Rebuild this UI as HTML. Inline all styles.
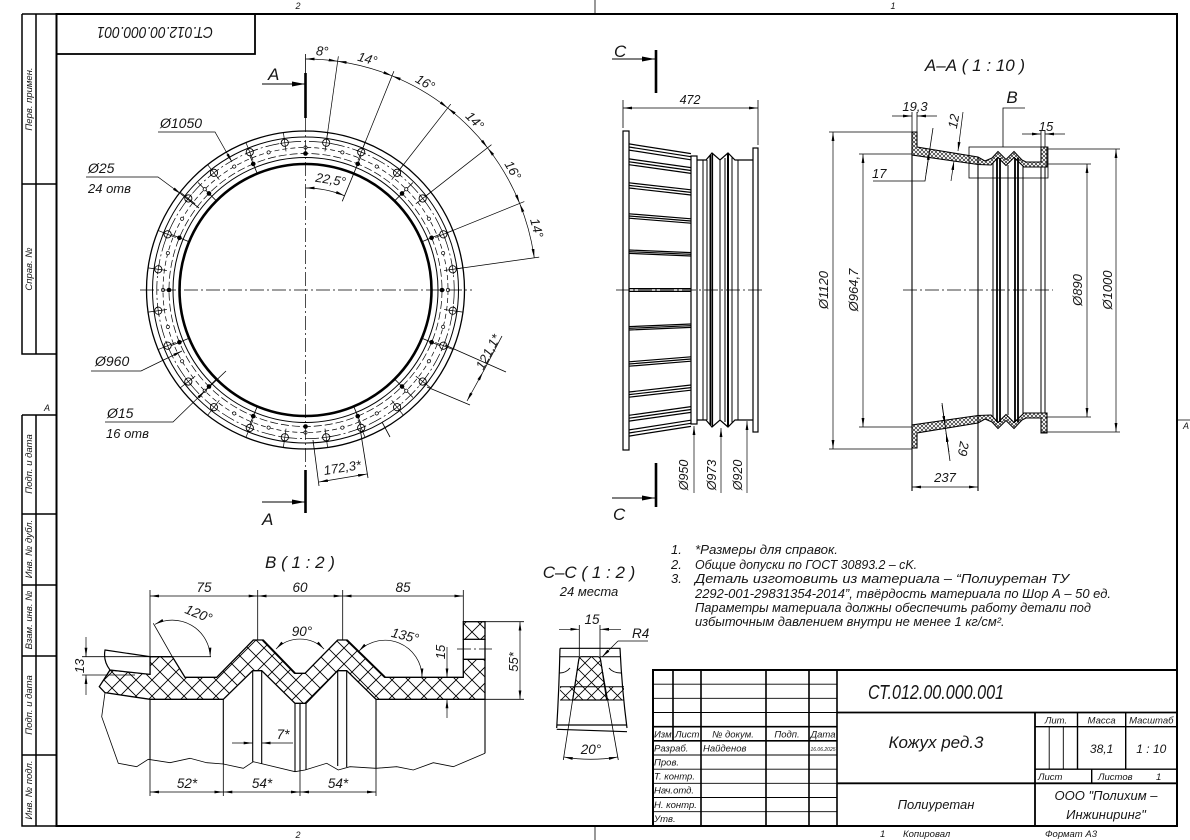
<!DOCTYPE html>
<html><head><meta charset="utf-8">
<style>
html,body{margin:0;padding:0;background:#fff;}
svg{display:block;}
text{font-family:"Liberation Sans","DejaVu Sans",sans-serif;font-style:italic;fill:#161616;stroke:none;}
.t{stroke:#000;stroke-width:0.8;fill:none;}
.m{stroke:#000;stroke-width:1.2;fill:none;}
.k{stroke:#000;stroke-width:2;fill:none;}
.dm{stroke:#000;stroke-width:0.7;fill:none;marker-start:url(#ar);marker-end:url(#ar);}
.de{stroke:#000;stroke-width:0.7;fill:none;marker-end:url(#ar);}
.cl{stroke:#000;stroke-width:0.7;fill:none;stroke-dasharray:14 3 2 3;}
</style></head><body>
<svg width="1190" height="840" viewBox="0 0 1190 840" xmlns="http://www.w3.org/2000/svg" xmlns:xlink="http://www.w3.org/1999/xlink">
<defs>
<marker id="ar" viewBox="0 0 9 4" markerWidth="9" markerHeight="4" refX="9" refY="2" orient="auto-start-reverse" markerUnits="userSpaceOnUse"><path d="M0,0.6 L9,2 L0,3.4 Z" fill="#000"/></marker>
<marker id="ab" viewBox="0 0 13 5" markerWidth="13" markerHeight="5" refX="13" refY="2.5" orient="auto" markerUnits="userSpaceOnUse"><path d="M0,0 L13,2.5 L0,5 Z" fill="#000"/></marker>
<pattern id="hs" width="4" height="4" patternUnits="userSpaceOnUse"><path d="M0,4 L4,0 M0,0 L4,4" stroke="#000" stroke-width="0.55"/></pattern>
<pattern id="hb" width="16" height="16" patternUnits="userSpaceOnUse"><path d="M0,16 L16,0 M0,0 L16,16" stroke="#000" stroke-width="0.9"/></pattern>
<pattern id="hc" width="13" height="13" patternUnits="userSpaceOnUse"><path d="M0,13 L13,0 M0,0 L13,13" stroke="#000" stroke-width="0.8"/></pattern>
<g id="h25"><circle cx="305.5" cy="141.3" r="3.6" fill="#fff" stroke="#000" stroke-width="0.9"/><path d="M305.5,131 V150 M300.5,141.3 H310.5" stroke="#000" stroke-width="0.7"/></g>
<g id="h15"><circle cx="305.5" cy="153.5" r="2.3" fill="#000"/></g>
<g id="od"><circle cx="305.5" cy="147.5" r="1.6" fill="#fff" stroke="#000" stroke-width="0.7"/></g>
<g id="tk"><path d="M305.5,138 V163" stroke="#000" stroke-width="0.8"/></g>
<g id="ex"><path d="M305.5,138 V54" stroke="#000" stroke-width="0.7"/></g>
</defs>

<!-- ===== FRAME ===== -->
<rect x="56.5" y="14" width="1120.5" height="812" class="k"/>
<path d="M22,14 V354 H56.5 M22,14 H56.5 M36,14 V354 M22,184 H56.5" stroke="#000" stroke-width="1.5" fill="none"/>
<path d="M22,415 V826 H56.5 M22,415 H56.5 M36,415 V826 M22,514 H56.5 M22,585 H56.5 M22,656 H56.5 M22,755 H56.5" stroke="#000" stroke-width="1.5" fill="none"/>
<rect x="56.5" y="14" width="198.5" height="40" stroke="#000" stroke-width="1.8" fill="none"/>
<path d="M595,0 V14 M595,826 V840 M1177,420 H1190" class="t"/>
<text x="298" y="9" font-size="9" text-anchor="middle">2</text>
<text x="893" y="9" font-size="9" text-anchor="middle">1</text>
<text x="298" y="838" font-size="9" text-anchor="middle">2</text>
<text x="1186" y="429" font-size="9" text-anchor="middle">А</text>
<text x="47" y="411" font-size="9" text-anchor="middle">А</text>
<text transform="translate(155,39) rotate(180 0 -6)" font-size="16" text-anchor="middle" textLength="116" lengthAdjust="spacingAndGlyphs">СТ.012.00.000.001</text>

<text transform="translate(32,99) rotate(-90)" font-size="9.5" text-anchor="middle">Перв. примен.</text>
<text transform="translate(32,269) rotate(-90)" font-size="9.5" text-anchor="middle">Справ. №</text>
<text transform="translate(32,464) rotate(-90)" font-size="9.5" text-anchor="middle">Подп. и дата</text>
<text transform="translate(32,549) rotate(-90)" font-size="9.5" text-anchor="middle">Инв. № дубл.</text>
<text transform="translate(32,620) rotate(-90)" font-size="9.5" text-anchor="middle">Взам. инв. №</text>
<text transform="translate(32,705) rotate(-90)" font-size="9.5" text-anchor="middle">Подп. и дата</text>
<text transform="translate(32,790) rotate(-90)" font-size="9.5" text-anchor="middle">Инв. № подл.</text>

<!-- ===== CIRCLE VIEW ===== -->
<g fill="none" stroke="#000">
<circle cx="305.5" cy="290" r="159" stroke-width="1.3"/>
<circle cx="305.5" cy="290" r="153" stroke-width="1"/>
<circle cx="305.5" cy="290" r="148.7" stroke-width="0.7" stroke-dasharray="14 3 2 3"/>
<circle cx="305.5" cy="290" r="142.5" stroke-width="0.7" stroke-dasharray="5 3"/>
<circle cx="305.5" cy="290" r="136.5" stroke-width="0.7" stroke-dasharray="8 3"/>
<circle cx="305.5" cy="290" r="132.5" stroke-width="1"/>
<circle cx="305.5" cy="290" r="126" stroke-width="2.6"/>
</g>
<g>
<use href="#tk" transform="rotate(22.5 305.5 290)"/><use href="#tk" transform="rotate(45 305.5 290)"/><use href="#tk" transform="rotate(67.5 305.5 290)"/>
<use href="#tk" transform="rotate(112.5 305.5 290)"/><use href="#tk" transform="rotate(135 305.5 290)"/><use href="#tk" transform="rotate(157.5 305.5 290)"/>
<use href="#tk" transform="rotate(202.5 305.5 290)"/><use href="#tk" transform="rotate(225 305.5 290)"/><use href="#tk" transform="rotate(247.5 305.5 290)"/>
<use href="#tk" transform="rotate(292.5 305.5 290)"/><use href="#tk" transform="rotate(315 305.5 290)"/><use href="#tk" transform="rotate(337.5 305.5 290)"/>
</g>
<g>
<use href="#od" transform="rotate(0 305.5 290)"/><use href="#od" transform="rotate(15 305.5 290)"/><use href="#od" transform="rotate(30 305.5 290)"/><use href="#od" transform="rotate(45 305.5 290)"/>
<use href="#od" transform="rotate(60 305.5 290)"/><use href="#od" transform="rotate(75 305.5 290)"/><use href="#od" transform="rotate(90 305.5 290)"/><use href="#od" transform="rotate(105 305.5 290)"/>
<use href="#od" transform="rotate(120 305.5 290)"/><use href="#od" transform="rotate(135 305.5 290)"/><use href="#od" transform="rotate(150 305.5 290)"/><use href="#od" transform="rotate(165 305.5 290)"/>
<use href="#od" transform="rotate(180 305.5 290)"/><use href="#od" transform="rotate(195 305.5 290)"/><use href="#od" transform="rotate(210 305.5 290)"/><use href="#od" transform="rotate(225 305.5 290)"/>
<use href="#od" transform="rotate(240 305.5 290)"/><use href="#od" transform="rotate(255 305.5 290)"/><use href="#od" transform="rotate(270 305.5 290)"/><use href="#od" transform="rotate(285 305.5 290)"/>
<use href="#od" transform="rotate(300 305.5 290)"/><use href="#od" transform="rotate(315 305.5 290)"/><use href="#od" transform="rotate(330 305.5 290)"/><use href="#od" transform="rotate(345 305.5 290)"/>
</g>
<g>
<use href="#h15" transform="rotate(0 305.5 290)"/><use href="#h15" transform="rotate(22.5 305.5 290)"/><use href="#h15" transform="rotate(45 305.5 290)"/><use href="#h15" transform="rotate(67.5 305.5 290)"/>
<use href="#h15" transform="rotate(90 305.5 290)"/><use href="#h15" transform="rotate(112.5 305.5 290)"/><use href="#h15" transform="rotate(135 305.5 290)"/><use href="#h15" transform="rotate(157.5 305.5 290)"/>
<use href="#h15" transform="rotate(180 305.5 290)"/><use href="#h15" transform="rotate(202.5 305.5 290)"/><use href="#h15" transform="rotate(225 305.5 290)"/><use href="#h15" transform="rotate(247.5 305.5 290)"/>
<use href="#h15" transform="rotate(270 305.5 290)"/><use href="#h15" transform="rotate(292.5 305.5 290)"/><use href="#h15" transform="rotate(315 305.5 290)"/><use href="#h15" transform="rotate(337.5 305.5 290)"/>
</g>
<g>
<use href="#h25" transform="rotate(8 305.5 290)"/><use href="#h25" transform="rotate(22 305.5 290)"/><use href="#h25" transform="rotate(38 305.5 290)"/><use href="#h25" transform="rotate(52 305.5 290)"/>
<use href="#h25" transform="rotate(68 305.5 290)"/><use href="#h25" transform="rotate(82 305.5 290)"/><use href="#h25" transform="rotate(98 305.5 290)"/><use href="#h25" transform="rotate(112 305.5 290)"/>
<use href="#h25" transform="rotate(128 305.5 290)"/><use href="#h25" transform="rotate(142 305.5 290)"/><use href="#h25" transform="rotate(158 305.5 290)"/><use href="#h25" transform="rotate(172 305.5 290)"/>
<use href="#h25" transform="rotate(188 305.5 290)"/><use href="#h25" transform="rotate(202 305.5 290)"/><use href="#h25" transform="rotate(218 305.5 290)"/><use href="#h25" transform="rotate(232 305.5 290)"/>
<use href="#h25" transform="rotate(248 305.5 290)"/><use href="#h25" transform="rotate(262 305.5 290)"/><use href="#h25" transform="rotate(278 305.5 290)"/><use href="#h25" transform="rotate(292 305.5 290)"/>
<use href="#h25" transform="rotate(308 305.5 290)"/><use href="#h25" transform="rotate(322 305.5 290)"/><use href="#h25" transform="rotate(338 305.5 290)"/><use href="#h25" transform="rotate(352 305.5 290)"/>
</g>
<!-- centerlines -->
<path d="M140,290 H472" class="cl"/>
<path d="M305.5,118 V470" class="cl"/>
<path d="M305.5,54 V73" class="t"/>
<path d="M305.5,73 V118 M305.5,470 V513" stroke="#000" stroke-width="2.6"/>
<path d="M262,84 H305" stroke="#000" stroke-width="1" marker-end="url(#ab)"/>
<path d="M262,502 H305" stroke="#000" stroke-width="1" marker-end="url(#ab)"/>
<text x="268" y="80" font-size="17">А</text>
<text x="262" y="525" font-size="17">А</text>
<!-- angular dimension chain -->
<use href="#ex" transform="rotate(8 305.5 290)"/><use href="#ex" transform="rotate(22 305.5 290)"/><use href="#ex" transform="rotate(38 305.5 290)"/>
<use href="#ex" transform="rotate(52 305.5 290)"/><use href="#ex" transform="rotate(68 305.5 290)"/><use href="#ex" transform="rotate(82 305.5 290)"/>
<path class="dm" d="M305.5,59 A231,231 0 0 1 337.65,61.25"/>
<path class="dm" d="M337.65,61.25 A231,231 0 0 1 392.03,75.82"/>
<path class="dm" d="M392.03,75.82 A231,231 0 0 1 447.72,107.97"/>
<path class="dm" d="M447.72,107.97 A231,231 0 0 1 487.53,147.78"/>
<path class="dm" d="M487.53,147.78 A231,231 0 0 1 519.68,203.47"/>
<path class="dm" d="M519.68,203.47 A231,231 0 0 1 534.25,257.85"/>
<g font-size="13" text-anchor="middle">
<text x="305.5" y="55" transform="rotate(4 305.5 290)">8°</text>
<text x="305.5" y="55" transform="rotate(15 305.5 290)">14°</text>
<text x="305.5" y="55" transform="rotate(30 305.5 290)">16°</text>
<text x="305.5" y="55" transform="rotate(45 305.5 290)">14°</text>
<text x="305.5" y="55" transform="rotate(60 305.5 290)">16°</text>
<text x="305.5" y="55" transform="rotate(75 305.5 290)">14°</text>
</g>
<!-- 22.5 -->
<path d="M305.5,163 V194" class="t" transform="rotate(22.5 305.5 290)"/>
<path class="dm" d="M305.5,188 A102,102 0 0 1 344.53,195.76"/>
<text transform="translate(330,184) rotate(9)" font-size="13" text-anchor="middle">22,5°</text>
<!-- leaders -->
<text x="160" y="128" font-size="14">Ø1050</text>
<path d="M158,132 H215 L232,162" class="de"/>
<text x="88" y="173" font-size="14">Ø25</text>
<text x="88" y="193" font-size="13">24 отв</text>
<path d="M86,177 H158 L181,194" class="de"/>
<path d="M181,194 L199,208" class="t"/>
<text x="95" y="366" font-size="14">Ø960</text>
<path d="M91,371 H141 L182,351" class="de"/>
<text x="107" y="418" font-size="14">Ø15</text>
<text x="106" y="438" font-size="13">16 отв</text>
<path d="M105,422 H173 L205,391" class="de"/>
<path d="M205,391 L226,371" class="t"/>
<!-- 121,1 -->
<path d="M427,387 L470,405 M445,345 L506,372" class="t"/>
<path class="dm" d="M467,401 L483,372"/>
<path d="M483,372 L502,336" class="t"/>
<text transform="translate(492,354) rotate(-62)" font-size="13" text-anchor="middle">121,1*</text>
<!-- 172,3 -->
<path d="M313,440 L319,486 M360,428 L368,478" class="t"/>
<path class="dm" d="M319,482 L367,474"/>
<text transform="translate(343,472) rotate(-9)" font-size="13" text-anchor="middle">172,3*</text>
<path d="M382,422 L390,437" class="t"/>

<!-- ===== SIDE VIEW (C) ===== -->
<rect x="623" y="131" width="6" height="319" class="m" fill="#fff"/>
<g stroke="#000" stroke-width="1.2" fill="none">
<path d="M629,143.9 L691,153.6 M629,147 L691,156.7 M629,150.1 L691,159.8"/>
<path d="M629,158.9 L691,167.6 M629,161.8 L691,170.5 M629,164.7 L691,173.4"/>
<path d="M629,182.8 L691,189.8 M629,185.4 L691,192.4 M629,188 L691,195"/>
<path d="M629,213.8 L691,218.8 M629,216 L691,221 M629,218.2 L691,223.2"/>
<path d="M629,250 L691,252.6 M629,251.7 L691,254.3 M629,253.4 L691,256"/>
<path d="M629,288.6 L691,288.6 M629,291.4 L691,291.4"/>
<path d="M629,326.6 L691,324 M629,328.3 L691,325.7 M629,330 L691,327.4"/>
<path d="M629,361.8 L691,356.8 M629,364 L691,359 M629,366.2 L691,361.2"/>
<path d="M629,392 L691,385 M629,394.6 L691,387.6 M629,397.2 L691,390.2"/>
<path d="M629,415.3 L691,406.6 M629,418.2 L691,409.5 M629,421.1 L691,412.4"/>
<path d="M629,429.9 L691,420.2 M629,433 L691,423.3 M629,436.1 L691,426.4"/>
</g>
<rect x="691" y="156" width="6" height="268" class="m" fill="#fff"/>
<path d="M697,160 L706,160 L712,153 L720,160 L728,153 L735,160 L753,160" class="m"/>
<path d="M697,420 L706,420 L712,427 L720,420 L728,427 L735,420 L753,420" class="m"/>
<path d="M703,160 V420 M707,160 V420 M720,160 V420 M725,158 V422 M732,157 V423 M738,160 V420" stroke="#000" stroke-width="1" fill="none"/>
<path d="M710.5,155 V425 M728,153 V427" stroke="#000" stroke-width="2" fill="none"/>
<path d="M712.5,153 V427" stroke="#000" stroke-width="1.2" fill="none"/>
<rect x="753" y="148" width="5" height="284" class="m" fill="#fff"/>
<path d="M616,290 H765" class="cl"/>
<path d="M623,128 V100 M758,145 V100" class="t"/>
<path class="dm" d="M623,108 H758"/>
<text x="690" y="104" font-size="12.5" text-anchor="middle">472</text>
<path d="M656,50 V93 M656,463 V507" stroke="#000" stroke-width="2.6"/>
<path d="M612,59 H655" stroke="#000" stroke-width="1" marker-end="url(#ab)"/>
<path d="M612,498 H655" stroke="#000" stroke-width="1" marker-end="url(#ab)"/>
<text x="614" y="57" font-size="17">С</text>
<text x="613" y="520" font-size="17">С</text>
<path class="de" d="M694,493 V426"/>
<path class="de" d="M721,493 V428"/>
<path class="de" d="M747,493 V421"/>
<text transform="translate(688,475) rotate(-90)" font-size="12.5" text-anchor="middle">Ø950</text>
<text transform="translate(716,475) rotate(-90)" font-size="12.5" text-anchor="middle">Ø973</text>
<text transform="translate(742,475) rotate(-90)" font-size="12.5" text-anchor="middle">Ø920</text>

<!-- ===== SECTION A-A ===== -->
<text x="975" y="71" font-size="17" text-anchor="middle">А–А ( 1 : 10 )</text>
<g id="aat">
<path d="M912,132 L917,132 L917,147 L978,157 L985,161 L992,158 L998,151.5 L1006,159.5 L1014,151.5 L1022,160 L1026,162 L1041,162 L1041,147 L1047,147 L1047,167 L1024,167 L1014,157.5 L1006,165.5 L998,157.5 L991,165 L978,164.5 L912,155 Z" fill="url(#hs)" stroke="#000" stroke-width="1.1"/>
</g>
<use href="#aat" transform="translate(0,580) scale(1,-1)"/>
<path d="M912,132 V491 M978,157 V491" stroke="#000" stroke-width="1.1" fill="none"/>
<path d="M993,163 V417 M1008,165 V415 M1023,166 V414 M1041,167 V413 M1045,167 V413" stroke="#000" stroke-width="1" fill="none"/>
<path d="M997,158 V422 M1000,158 V422 M1015,158 V422 M1018,158 V422" stroke="#000" stroke-width="1.8" fill="none"/>
<path d="M903,290 H1053" class="cl"/>
<rect x="969" y="147" width="79" height="31" class="t"/>
<path d="M1003,147 V108 H1025" class="t"/>
<text x="1012" y="103" font-size="17" text-anchor="middle">В</text>
<!-- dims -->
<path d="M829,132 H912 M829,449 H912" class="t"/>
<path class="dm" d="M833,132 V449"/>
<text transform="translate(828,290) rotate(-90)" font-size="13" text-anchor="middle">Ø1120</text>
<path d="M859,154 H912 M859,427 H912" class="t"/>
<path class="dm" d="M863,154 V427"/>
<text transform="translate(858,290) rotate(-90)" font-size="13" text-anchor="middle">Ø964,7</text>
<path d="M1045,164 H1091 M1045,417 H1091" class="t"/>
<path class="dm" d="M1087,164 V417"/>
<text transform="translate(1082,290) rotate(-90)" font-size="13" text-anchor="middle">Ø890</text>
<path d="M1048,149 H1120 M1041,432 H1120" class="t"/>
<path class="dm" d="M1116,149 V432"/>
<text transform="translate(1112,290) rotate(-90)" font-size="13" text-anchor="middle">Ø1000</text>
<path d="M912,132 V112 M917,132 V112" class="t"/>
<path class="de" d="M892,116 H912"/><path class="de" d="M937,116 H917"/>
<text x="915" y="111" font-size="13" text-anchor="middle">19,3</text>
<path class="de" d="M963,112 L958,151"/><path class="de" d="M951,181 L954,161"/>
<text transform="translate(958,122) rotate(-80)" font-size="13" text-anchor="middle">12</text>
<path d="M873,181 H925 L933,128" class="t"/>
<path class="de" d="M926,174 L929.5,151"/>
<text x="872" y="178" font-size="13">17</text>
<path d="M942,403 L950,461" class="t"/>
<path class="de" d="M942,405 L945,425"/><path class="de" d="M949,452 L946,433"/>
<text transform="translate(959,448) rotate(100)" font-size="13" text-anchor="middle">29</text>
<path class="dm" d="M912,487 H978"/>
<text x="945" y="482" font-size="13" text-anchor="middle">237</text>
<path d="M1041,147 V130 M1045,147 V130" class="t"/>
<path class="de" d="M1022,134 H1041"/><path class="de" d="M1065,134 H1045"/>
<text x="1046" y="131" font-size="13" text-anchor="middle">15</text>

<!-- ===== DETAIL B ===== -->
<text x="300" y="568" font-size="17" text-anchor="middle">В ( 1 : 2 )</text>
<path d="M110,670 L150,674.3 L150,656.7 L172.3,656.7 L185,677.3 L216.7,677.3 L253.3,640 L262.7,640 L295,673.3 L305,673.3 L337.7,640 L346.7,640 L385,677.3 L463.3,677.3 L463.3,659.3 L485,659.3 L485,699.3 L376,699.3 L346.7,670.7 L337.7,670.7 L306,703.3 L295,703.3 L261.7,670.7 L252.7,670.7 L223.3,699.3 L150,699.3 L105,692.7 L99.3,686.7 Z" fill="url(#hb)" stroke="#000" stroke-width="1.3"/>
<path d="M262.7,640 L295,673.3 M346.7,640 L385,677.3" stroke="#000" stroke-width="2"/>
<rect x="463.3" y="621.7" width="21.7" height="17.6" fill="url(#hb)" stroke="#000" stroke-width="1.3"/>
<path d="M463.3,639.3 V659.3 M485,639.3 V659.3" stroke="#000" stroke-width="1.3"/>
<path d="M457,649 H492" class="cl"/>
<path d="M105,650 L150,656.7 L150,674.3 L110,670 Q103,661 105,650 Z" fill="#fff" stroke="#000" stroke-width="1.2"/>
<path d="M105,692.7 L101.7,716.7 L118.3,763.3 L136.7,766.7 L148.3,759.3 L170,762.7 L190,758.3 L206.7,762.7 L223.3,764 L243.3,768.3 L253.3,761.7 L295,771.7 L305,770 L326.7,763.3 L338.3,770 L350,766.7 L376,768.3 L396.7,766.7 L413.3,770 L433.3,762.7 L453.3,766.7 L473.3,758.3 L485,753.3" class="t"/>
<path d="M150,699.3 V759.5 M223.3,699.3 V764 M252.7,670.7 V761.7 M261.7,670.7 V764 M295,703.3 V771.5 M300,703.3 V771 M306,703.3 V770 M337.7,670.7 V766 M346.7,670.7 V767 M376,699.3 V768.3 M485,699.3 V753.3" stroke="#000" stroke-width="1.1" fill="none"/>
<!-- dims B -->
<path d="M150,590 V656.7 M257.7,590 V640 M342.7,590 V640 M463.3,590 V621.7" class="t"/>
<path class="dm" d="M150,596 H257.7"/><path class="dm" d="M257.7,596 H342.7"/><path class="dm" d="M342.7,596 H463.3"/>
<text x="204" y="592" font-size="13.5" text-anchor="middle">75</text>
<text x="300" y="592" font-size="13.5" text-anchor="middle">60</text>
<text x="403" y="592" font-size="13.5" text-anchor="middle">85</text>
<path d="M82,656.7 H150 M82,675 H135" class="t"/>
<path class="de" d="M86,637 V656.7"/><path class="de" d="M86,695 V675"/>
<text transform="translate(84,666) rotate(-90)" font-size="13" text-anchor="middle">13</text>
<path d="M172.3,656.7 L153.3,623.3 M150,656.7 H211" class="t"/>
<path class="dm" d="M155,624.3 A38,38 0 0 1 210.3,656.7"/>
<text transform="translate(197,618) rotate(22)" font-size="13.5" text-anchor="middle">120°</text>
<path class="dm" d="M276,649 A34,34 0 0 1 324,649"/>
<text x="302" y="636" font-size="13.5" text-anchor="middle">90°</text>
<path class="dm" d="M358.8,651.1 A37,37 0 0 1 422,677.3"/>
<text transform="translate(404,640) rotate(14)" font-size="13.5" text-anchor="middle">135°</text>
<path class="de" d="M447,647 V677.3"/><path class="de" d="M447,718 V699.3"/>
<text transform="translate(445,652) rotate(-90)" font-size="13" text-anchor="middle">15</text>
<path d="M485,621.7 H524 M485,699.3 H524" class="t"/>
<path class="dm" d="M520,621.7 V699.3"/>
<text transform="translate(518,662) rotate(-90)" font-size="13" text-anchor="middle">55*</text>
<path class="de" d="M232,743 H252.7"/><path class="de" d="M293,743 H261.7"/>
<text x="283" y="739" font-size="13.5" text-anchor="middle">7*</text>
<path d="M150,759 V796 M223.3,764 V796 M300,771 V796 M376,768 V796" class="t"/>
<path class="dm" d="M150,792 H223.3"/><path class="dm" d="M223.3,792 H300"/><path class="dm" d="M300,792 H376"/>
<text x="187" y="788" font-size="13.5" text-anchor="middle">52*</text>
<text x="262" y="788" font-size="13.5" text-anchor="middle">54*</text>
<text x="338" y="788" font-size="13.5" text-anchor="middle">54*</text>

<!-- ===== SECTION C-C ===== -->
<text x="589" y="578" font-size="17" text-anchor="middle">С–С ( 1 : 2 )</text>
<text x="589" y="596" font-size="13" text-anchor="middle">24 места</text>
<path d="M560,648.3 H620 Q622,690 627,728 M560,648.3 Q559,690 556.7,728" stroke="#000" stroke-width="1.2" fill="none"/>
<path d="M556.7,725 H626.7 M556.7,729.3 L627,731.7" stroke="#000" stroke-width="1.2" fill="none"/>
<path d="M560,700 L572.7,700 M606.7,700 L624,700 M560,686.7 L624,686.7 M559.5,673 Q566,673 570,668 M621,673 Q613,673 609,668 M560,656.7 H579.3 M600,656.7 H620" stroke="#000" stroke-width="1" fill="none"/>
<path d="M560,686.7 L575,686.7 L572.7,700 L560,700 Z M624,686.7 L604.6,686.7 L606.7,700 L624,700 Z" fill="url(#hc)" stroke="none"/>
<path d="M581,656.7 L598,656.7 Q600,657 600.6,660 L606.7,700 L572.7,700 L578.7,660 Q579.3,657 581,656.7 Z" fill="url(#hc)" stroke="#000" stroke-width="1.2"/>
<path d="M579.3,656.7 L563.3,760 M600,656.7 L618.3,760" class="t"/>
<path d="M579.3,625 V656.7 M600,625 V656.7" class="t"/>
<path class="de" d="M559,629.3 H579.3"/><path class="de" d="M621,629.3 H600"/>
<text x="592" y="624" font-size="13.5" text-anchor="middle">15</text>
<path d="M618,641 H648" class="t"/>
<path class="de" d="M618,641 L602,657"/>
<text x="632" y="638" font-size="13.5">R4</text>
<path class="dm" d="M563.8,757 A163,163 0 0 0 617.8,757"/>
<text x="591" y="754" font-size="13.5" text-anchor="middle">20°</text>

<!-- ===== NOTES ===== -->
<g font-size="13">
<text x="671" y="554">1.</text>
<text x="695" y="554" textLength="143" lengthAdjust="spacingAndGlyphs">*Размеры для справок.</text>
<text x="671" y="569">2.</text>
<text x="695" y="569" textLength="222" lengthAdjust="spacingAndGlyphs">Общие допуски по ГОСТ 30893.2 – cK.</text>
<text x="671" y="583">3.</text>
<text x="695" y="583" textLength="374" lengthAdjust="spacingAndGlyphs">Деталь изготовить из материала – “Полиуретан ТУ</text>
<text x="695" y="598" textLength="416" lengthAdjust="spacingAndGlyphs">2292-001-29831354-2014”, твёрдость материала по Шор А – 50 ед.</text>
<text x="695" y="612" textLength="396" lengthAdjust="spacingAndGlyphs">Параметры материала должны обеспечить работу детали под</text>
<text x="695" y="626" textLength="306" lengthAdjust="spacingAndGlyphs">избыточным давлением внутри не менее 1 кг/см²</text>
<text x="1001" y="626">.</text>
</g>

<!-- ===== TITLE BLOCK ===== -->
<g fill="none" stroke="#000">
<rect x="653" y="670" width="524" height="156" stroke-width="2"/>
<path stroke-width="1.6" d="M673,670 V740.8 M701,670 V826 M766,670 V826 M809,670 V826 M837,670 V826"/>
<path stroke-width="0.9" d="M653,684.2 H837 M653,698.3 H837 M653,712.5 H837 M653,755 H837 M653,769.2 H837 M653,783.3 H837 M653,797.5 H837 M653,811.7 H837"/>
<path stroke-width="1.6" d="M653,726.7 H837 M653,740.8 H837"/>
<path stroke-width="1.8" d="M837,712.5 H1177 M837,783.3 H1177 M1035,712.5 V826"/>
<path stroke-width="1.4" d="M1035,726.7 H1177 M1035,769.2 H1177 M1077.5,712.5 V769.2 M1125.7,712.5 V769.2 M1091.7,769.2 V783.3"/>
<path stroke-width="0.9" d="M1049.2,726.7 V769.2 M1063.3,726.7 V769.2"/>
</g>
<g font-size="9.5">
<text x="654" y="737.5">Изм.</text>
<text x="675" y="737.5">Лист</text>
<text x="733" y="737.5" text-anchor="middle">№ докум.</text>
<text x="787" y="737.5" text-anchor="middle">Подп.</text>
<text x="823" y="737.5" text-anchor="middle">Дата</text>
<text x="654" y="751.5">Разраб.</text>
<text x="703" y="751.5">Найденов</text>
<text x="823" y="751" font-size="5" text-anchor="middle">16.06.2025</text>
<text x="654" y="765.5">Пров.</text>
<text x="654" y="779.5">Т. контр.</text>
<text x="654" y="793.5">Нач.отд.</text>
<text x="654" y="808">Н. контр.</text>
<text x="654" y="822">Утв.</text>
<text x="1056" y="723.5" text-anchor="middle">Лит.</text>
<text x="1101.6" y="723.5" text-anchor="middle">Масса</text>
<text x="1151.3" y="723.5" text-anchor="middle">Масштаб</text>
<text x="1038" y="780">Лист</text>
<text x="1098" y="780">Листов</text>
<text x="1156" y="780">1</text>
</g>
<text x="936" y="699" font-size="20" text-anchor="middle" textLength="136" lengthAdjust="spacingAndGlyphs">СТ.012.00.000.001</text>
<text x="936" y="748" font-size="17" text-anchor="middle">Кожух ред.3</text>
<text x="936" y="809" font-size="13" text-anchor="middle">Полиуретан</text>
<text x="1101.6" y="753" font-size="12" text-anchor="middle">38,1</text>
<text x="1151.3" y="753" font-size="12" text-anchor="middle">1 : 10</text>
<text x="1106" y="800" font-size="13" text-anchor="middle">ООО "Полихим –</text>
<text x="1106" y="819" font-size="13" text-anchor="middle">Инжиниринг"</text>
<text x="880" y="837" font-size="9.5">1</text>
<text x="903" y="837" font-size="9.5">Копировал</text>
<text x="1045" y="837" font-size="9.5">Формат А3</text>
</svg>
</body></html>
